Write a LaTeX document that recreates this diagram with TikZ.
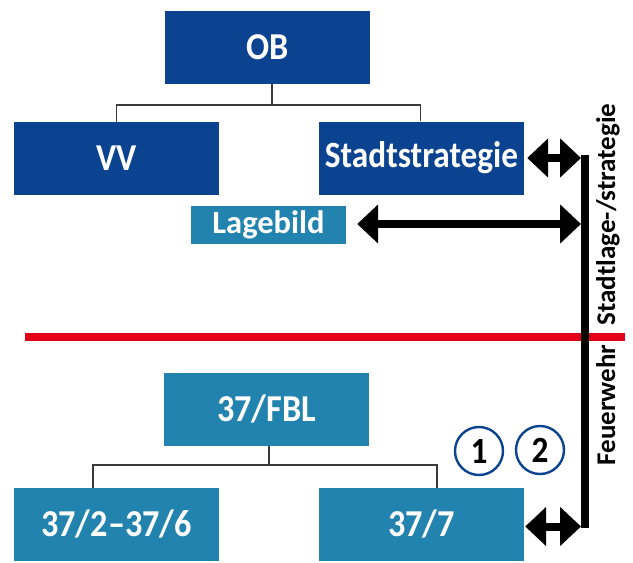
\documentclass[tikz,border=0pt]{standalone}
\usepackage{fontspec}
\setmainfont{Carlito}
\newfontfamily\boxfont{Carlito}[FakeStretch=0.9]
\usetikzlibrary{arrows.meta}
\definecolor{dblue}{HTML}{0B4391}
\definecolor{lblue}{HTML}{2383AF}
\definecolor{redline}{HTML}{E2001A}
\definecolor{conn}{HTML}{3A3A3A}
\tikzset{
  box/.style={fill=#1, text=white, font=\boxfont\fontsize{38}{42}\selectfont\bfseries, inner sep=0pt, minimum width=205pt, minimum height=73pt},
  connector/.style={draw=conn, line width=1.4pt},
  dblarrow/.style={line width=8pt, {Triangle[width=38pt,length=21pt]}-{Triangle[width=38pt,length=21pt]}},
  sidetext/.style={rotate=90, anchor=base, font=\fontsize{27}{30}\selectfont\bfseries},
  numcircle/.style={circle, draw=dblue, line width=2.4pt, minimum size=48pt, inner sep=0pt, font=\boxfont\fontsize{37}{40}\selectfont\bfseries}
}
\begin{document}
\begin{tikzpicture}[x=1pt,y=-1pt]
\useasboundingbox (0,0) rectangle (633,563);
% top boxes
\node[box=dblue] (OB) at (267.5,47.5) {OB};
\node[box=dblue] (VV) at (116.5,158.5) {VV};
\node[box=dblue, font=\boxfont\fontsize{37}{40}\selectfont\bfseries] (SS) at (421.5,158) {Stadtstrategie};
\node[box=lblue, minimum width=155pt, minimum height=38pt, font=\fontsize{32.5}{35}\selectfont\bfseries] (LB) at (268.5,225) {Lagebild};
% bottom boxes
\node[box=lblue] (FBL) at (266.5,409.5) {37/FBL};
\node[box=lblue] (L2) at (116.5,524.5) {37/2–37/6};
\node[box=lblue] (L7) at (421.5,524.5) {37/7};
% connectors top
\coordinate (ojoin) at (272,105);
\draw[connector] (OB.south -| ojoin) -- (ojoin);
\draw[connector] (ojoin) -| (VV.north);
\draw[connector] (ojoin) -| ([xshift=-1pt]SS.north);
% connectors bottom
\coordinate (fjoin) at (269,465);
\draw[connector] (FBL.south -| fjoin) -- (fjoin);
\draw[connector] (fjoin) -| ([xshift=-23.5pt]L2.north);
\draw[connector] (fjoin) -| ([xshift=15.5pt]L7.north);
% red line
\coordinate (rl) at (25,337);
\coordinate (rr) at (625,337);
\draw[redline, line width=8pt] (rl) -- (rr);
% vertical bar
\coordinate (bartop) at (585,155);
\coordinate (barbot) at (585,528);
\coordinate (barL) at (581,0);
\draw[black, line width=8pt] (bartop) -- (barbot);
% double arrows
\draw[dblarrow] ([xshift=3pt]SS.east) -- (SS.east -| barL);
\draw[dblarrow] ([xshift=11pt,yshift=1pt]LB.east) -- ([yshift=1pt]LB.east -| barL);
\draw[dblarrow] ([xshift=1pt,yshift=-2pt]L7.east) -- ([yshift=-2pt]L7.east -| barL);
% side texts
\node[sidetext] (t1) at (615,214.5) {Stadtlage-/strategie};
\node[sidetext] (t2) at (615,405) {Feuerwehr};
% circled numbers
\node[numcircle] (c1) at (479,451) {1};
\node[numcircle] (c2) at (540,450) {2};
\end{tikzpicture}
\end{document}
